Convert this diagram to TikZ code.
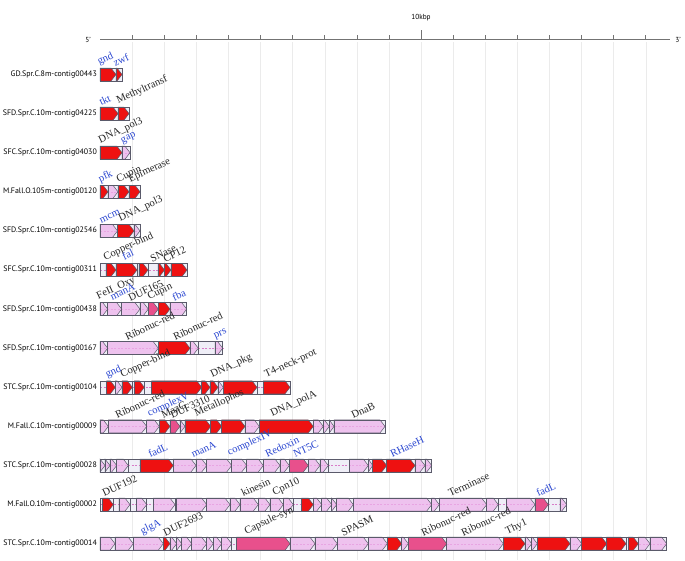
\documentclass[tikz,border=0pt]{standalone}
\usepackage{fontspec}
\setmainfont{Liberation Serif}
\setsansfont{PT Sans}
\usetikzlibrary{positioning}
\definecolor{genered}{HTML}{EE1111}
\definecolor{genepink}{HTML}{EEB4EC}
\definecolor{genehot}{HTML}{E8508C}
\definecolor{trackbg}{HTML}{EFEEF7}
\definecolor{gedge}{HTML}{5A5A6A}
\definecolor{labblue}{HTML}{2A46D0}
\definecolor{gridgray}{HTML}{EBEBEB}
\definecolor{midline}{HTML}{D87CC8}
\tikzset{
  track/.style    = {fill=trackbg, draw=gedge, line width=0.6pt},
  midl/.style     = {dash pattern=on 2pt off 1.5pt, midline, line width=0.4pt},
  genebox/.style  = {draw=gedge, line width=0.6pt},
  gred/.style     = {fill=genered, draw=gedge, line width=0.5pt},
  gpink/.style    = {fill=genepink, fill opacity=0.75, draw=gedge, line width=0.5pt},
  ghot/.style     = {fill=genehot, draw=gedge, line width=0.5pt},
  gpale/.style    = {fill=none},
  rowname/.style  = {anchor=east, inner sep=0pt, font=\sffamily\fontsize{7.9}{9}\selectfont},
  lab/.style      = {anchor=south west, rotate=25, inner sep=0.6pt, font=\fontsize{10.6}{12}\selectfont},
  bk/.style       = {lab, text=black!85},
  bl/.style       = {lab, text=labblue},
  axisline/.style = {draw=black!55, line width=1.6pt},
  tick/.style     = {draw=black!55, line width=0.6pt},
  gridl/.style    = {draw=gridgray, line width=0.4pt},
  axlab/.style    = {inner sep=0pt, font=\sffamily\fontsize{7.3}{8}\selectfont},
}
% one track of a contig, ending at #1
\newcommand{\contig}[1]{%
  \path[track] (100,-6.5) rectangle (#1,6.5);
  \draw[midl] (100,0) -- (#1,0);}
% one gene from #1 to #2, style #3
\newcommand{\gene}[3]{%
  \pgfmathsetmacro{\gtip}{min(5,#2-#1)}%
  \path[#3] (#1,-6.5) -- ({#2-\gtip},-6.5) -- (#2,0) -- ({#2-\gtip},6.5) -- (#1,6.5) -- cycle;
  \draw[genebox] (#1,-6.5) rectangle (#2,6.5);}

\begin{document}
\begin{tikzpicture}[x=1pt, y=-1pt]
  \useasboundingbox (0,0) rectangle (685,560);
  % scale
  \foreach \k in {1,...,17} {\draw[gridl] ({100+32.1*\k},42) -- ++(0,518);}
  \draw[axisline] (100,39.5) -- (670,39.5);
  \foreach \k in {1,...,17} {\draw[tick] ({100+32.1*\k},39.5) -- ++(0,-5);}
  \draw[tick] (421,39.5) -- ++(0,-10);
  \node[axlab] (kbp) at (421,17.5) {10kbp};
  \node[axlab] (five) at (88,39.5) {5'};
  \node[axlab] (three) at (678,39.5) {3'};

  \begin{scope}[shift={(0,74.5)}]
    \contig{122}
    \node[rowname] (c1) at (97,0) {GD.Spr.C.8m-contig00443};
    \foreach \a/\b/\s in {100/116/gred, 116/122/gred} {\gene{\a}{\b}{\s}}
    \node[bl] (c1-gnd) at (100,-6.5) {gnd};
    \node[bl] (c1-zwf) at (115,-6.5) {zwf};
  \end{scope}

  \begin{scope}[shift={(0,113.6)}]
    \contig{129}
    \node[rowname] (c2) at (97,0) {SFD.Spr.C.10m-contig04225};
    \foreach \a/\b/\s in {100/118/gred, 118/129/gred} {\gene{\a}{\b}{\s}}
    \node[bl] (c2-tkt) at (101,-6.5) {tkt};
    \node[bk] (c2-meth) at (119,-6.5) {Methyltransf};
  \end{scope}

  \begin{scope}[shift={(0,152.7)}]
    \contig{130}
    \node[rowname] (c3) at (97,0) {SFC.Spr.C.10m-contig04030};
    \foreach \a/\b/\s in {100/122/gred, 122/130/gpink} {\gene{\a}{\b}{\s}}
    \node[bk] (c3-pol) at (101,-6.5) {DNA\_pol3};
    \node[bl] (c3-gap) at (123,-6.5) {gap};
  \end{scope}

  \begin{scope}[shift={(0,191.8)}]
    \contig{140}
    \node[rowname] (c4) at (97,0) {M.Fall.O.105m-contig00120};
    \foreach \a/\b/\s in {100/108/gred, 108/118/gpink, 118/129/gred, 129/140/gred} {\gene{\a}{\b}{\s}}
    \node[bl] (c4-pfk) at (101,-6.5) {pfk};
    \node[bk] (c4-cup) at (119,-6.5) {Cupin};
    \node[bk] (c4-epi) at (131,-6.5) {Epimerase};
  \end{scope}

  \begin{scope}[shift={(0,230.9)}]
    \contig{140}
    \node[rowname] (c5) at (97,0) {SFD.Spr.C.10m-contig02546};
    \foreach \a/\b/\s in {100/117.5/gpink, 117.5/134/gred, 134/140/gpink} {\gene{\a}{\b}{\s}}
    \node[bl] (c5-mcm) at (101,-6.5) {mcm};
    \node[bk] (c5-pol) at (121,-6.5) {DNA\_pol3};
  \end{scope}

  \begin{scope}[shift={(0,270)}]
    \contig{187}
    \node[rowname] (c6) at (97,0) {SFC.Spr.C.10m-contig00311};
    \foreach \a/\b/\s in {100/106/gpale, 106/116/gred, 116/137/gred, 139/148/gred, 148/158/gpale,
                          158/164.5/gred, 164.5/171/gred, 171/187/gred} {\gene{\a}{\b}{\s}}
    \node[bk] (c6-cop) at (106,-6.5) {Copper-bind};
    \node[bl] (c6-fal) at (124,-8.5) {fal};
    \node[bk] (c6-sna) at (152,-6.5) {SNase};
    \node[bk] (c6-cp) at (165,-6.5) {CP12};
  \end{scope}

  \begin{scope}[shift={(0,309.1)}]
    \contig{186.7}
    \node[rowname] (c7) at (97,0) {SFD.Spr.C.10m-contig00438};
    \foreach \a/\b/\s in {100/107.7/gpink, 107.7/121.7/gpink, 121.7/140/gpink, 140/148.3/gpink,
                          148.3/158.3/ghot, 158.3/170/gred, 170/186.7/gpink} {\gene{\a}{\b}{\s}}
    \node[bk] (c7-fe) at (99,-6.5) {FeII\_Oxy};
    \node[bl] (c7-man) at (112,-7.5) {manA};
    \node[bk] (c7-duf) at (130,-6.5) {DUF165};
    \node[bk] (c7-cup) at (150,-6.5) {Cupin};
    \node[bl] (c7-fba) at (174,-6.5) {fba};
  \end{scope}

  \begin{scope}[shift={(0,348.2)}]
    \contig{222.7}
    \node[rowname] (c8) at (97,0) {SFD.Spr.C.10m-contig00167};
    \foreach \a/\b/\s in {100/107.7/gpink, 107.7/158.3/gpink, 158.3/190/gred, 190/198.3/gpink,
                          198.3/215/gpale, 215/222.7/gpink} {\gene{\a}{\b}{\s}}
    \node[bk] (c8-rib) at (127,-6.5) {Ribonuc-red};
    \node[bk] (c8-rib2) at (175,-6.5) {Ribonuc-red};
    \node[bl] (c8-prs) at (216,-6.5) {prs};
  \end{scope}

  \begin{scope}[shift={(0,387.3)}]
    \contig{290}
    \node[rowname] (c9) at (97,0) {STC.Spr.C.10m-contig00104};
    \foreach \a/\b/\s in {100/106.7/gpale, 106.7/115.3/gred, 115.3/122/gpink, 122/132.3/gred,
                          134.3/144.3/gred, 144.3/151.7/gpale, 151.7/201.7/gred, 201.7/210/gred,
                          210/218/gred, 218/223.3/gpink, 223.3/257/gred, 257/263.3/gpale,
                          263.3/290/gred} {\gene{\a}{\b}{\s}}
    \node[bl] (c9-gnd) at (108,-6.5) {gnd};
    \node[bk] (c9-cop) at (123,-6.5) {Copper-bind};
    \node[bk] (c9-pkg) at (213,-6.5) {DNA\_pkg};
    \node[bk] (c9-t4) at (267,-6.5) {T4-neck-prot};
  \end{scope}

  \begin{scope}[shift={(0,426.4)}]
    \contig{385}
    \node[rowname] (c10) at (97,0) {M.Fall.C.10m-contig00009};
    \foreach \a/\b/\s in {100/108.3/gpink, 108.3/146.7/gpink, 146.7/159.3/gpink, 159.3/170/gred,
                          170/180/ghot, 180/185/gpink, 185/210.7/gred, 210.7/221.7/gred,
                          221.7/245/gred, 245/259.3/gpink, 259.3/313.3/gred, 313.3/323.3/gpink,
                          323.3/329.3/gpink, 329.3/334/gpink, 334/385/gpink} {\gene{\a}{\b}{\s}}
    \node[bk] (c10-rib) at (117,-6.5) {Ribonuc-red};
    \node[bl] (c10-cv) at (150,-6.5) {complexV};
    \node[bk] (c10-maz) at (163,-6.5) {MazG};
    \node[bk] (c10-duf) at (172,-6.5) {DUF3310};
    \node[bk] (c10-met) at (197,-6.5) {Metallophos};
    \node[bk] (c10-pol) at (273,-6.5) {DNA\_polA};
    \node[bk] (c10-dna) at (353,-6.5) {DnaB};
  \end{scope}

  \begin{scope}[shift={(0,465.5)}]
    \contig{431.7}
    \node[rowname] (c11) at (97,0) {STC.Spr.C.10m-contig00028};
    \foreach \a/\b/\s in {100/105/gpink, 105/110/gpink, 110/116.7/gpink, 116.7/128.3/gpink,
                          128.3/140/gpale, 140/173.3/gred, 173.3/196/gpink, 196/206.7/gpink,
                          206.7/231.7/gpink, 231.7/246.7/gpink, 246.7/263.3/gpink, 263.3/280/gpink,
                          280/289.3/gpink, 289.3/308.3/ghot, 308.3/320/gpink, 320/328.3/gpink,
                          328.3/349.3/gpale, 349.3/368.3/gpink, 368.3/372.7/gpink, 372.7/386.7/gred,
                          386.7/415/gred, 415/425/gpink, 425/431.7/gpink} {\gene{\a}{\b}{\s}}
    \node[bl] (c11-fad) at (150,-6.5) {fadL};
    \node[bl] (c11-man) at (193,-6.5) {manA};
    \node[bl] (c11-civ) at (230,-6.5) {complexIV};
    \node[bl] (c11-red) at (267,-6.5) {Redoxin};
    \node[bl] (c11-nt) at (295,-6.5) {NT5C};
    \node[bl] (c11-rh) at (392,-6.5) {RHaseH};
  \end{scope}

  \begin{scope}[shift={(0,504.6)}]
    \contig{566.7}
    \node[rowname] (c12) at (97,0) {M.Fall.O.10m-contig00002};
    \foreach \a/\b/\s in {100/102.7/gpale, 102.7/113.3/gred, 113.3/119/gpale, 119/130/gpink,
                          130/136.7/gpale, 136.7/146.7/gpink, 146.7/153.3/gpale, 153.3/175/gpink,
                          176.7/206.7/gpink, 206.7/230/gpink, 230/240/gpink, 240/258.3/gpink,
                          258.3/270/gpink, 270/283.3/gpink, 283.3/293.3/gpink, 293.3/301.7/gpale,
                          301.7/313.3/gred, 313.3/321.7/gpink, 321.7/331.7/gpink, 331.7/336.7/gpink,
                          336.7/353.3/gpink, 353.3/431.7/gpink, 431.7/439.3/gpink, 439.3/486.7/gpink,
                          486.7/498.3/gpink, 498.3/506.7/gpale, 506.7/535/gpink, 535/548.3/ghot,
                          548.3/560/gpale, 560/566.7/gpink} {\gene{\a}{\b}{\s}}
    \node[bk] (c12-duf) at (104,-6.5) {DUF192};
    \node[bk] (c12-kin) at (243,-6.5) {kinesin};
    \node[bk] (c12-cpn) at (275,-6.5) {Cpn10};
    \node[bk] (c12-ter) at (450,-6.5) {Terminase};
    \node[bl] (c12-fad) at (538,-6.5) {fadL};
  \end{scope}

  \begin{scope}[shift={(0,543.7)}]
    \contig{666.7}
    \node[rowname] (c13) at (97,0) {STC.Spr.C.10m-contig00014};
    \foreach \a/\b/\s in {100/115/gpink, 115/133.3/gpink, 133.3/163.3/gpink, 163.3/170/gred,
                          170/176.7/gpink, 176.7/181.7/gpink, 181.7/191.7/gpink, 191.7/206.7/gpink,
                          206.7/213.3/gpink, 213.3/221.7/gpink, 221.7/231.7/gpink, 231.7/236.7/gpale,
                          236.7/290/ghot, 290/315/gpink, 315/337.3/gpink, 337.3/368.3/gpink,
                          368.3/387.3/gpink, 387.3/401.7/gred, 401.7/408.3/gpink, 408.3/446.7/ghot,
                          446.7/503.3/gpink, 503.3/525/gred, 525/531.7/gpink, 531.7/537.3/gpink,
                          537.3/570/gred, 570/581.7/gpink, 581.7/606.7/gred, 606.7/626/gred,
                          626/628.3/gpale, 628.3/638.3/gred, 638.3/650/gpink, 650/666.7/gpink} {\gene{\a}{\b}{\s}}
    \node[bl] (c13-glg) at (143,-6.5) {glgA};
    \node[bk] (c13-duf) at (165,-6.5) {DUF2693};
    \node[bk] (c13-cap) at (247,-6.5) {Capsule-syn};
    \node[bk] (c13-spa) at (343,-6.5) {SPASM};
    \node[bk] (c13-rib) at (423,-6.5) {Ribonuc-red};
    \node[bk] (c13-rib2) at (463,-6.5) {Ribonuc-red};
    \node[bk] (c13-thy) at (508,-6.5) {Thy1};
  \end{scope}
\end{tikzpicture}
\end{document}
